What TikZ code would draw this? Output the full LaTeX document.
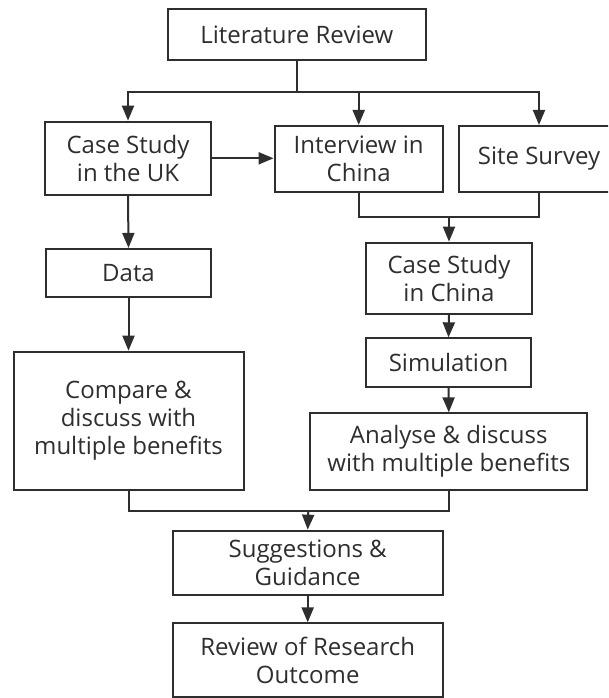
\documentclass[tikz,border=0pt]{standalone}
\usepackage{fontspec}
\setmainfont{Open Sans}
\usetikzlibrary{arrows.meta}
\definecolor{ink}{HTML}{2E2E2E}
\tikzset{
  box/.style={draw=ink, line width=2pt, text=ink, align=center, inner sep=0pt,
    font=\fontsize{24}{28}\selectfont},
  conn/.style={draw=ink, line width=2pt},
  arr/.style={conn, -{Triangle[length=15pt,width=12pt]}}
}
\begin{document}
\begin{tikzpicture}[x=1pt,y=-1pt]
\clip (0,0) rectangle (608,698);
\node[box, minimum width=257.8pt, minimum height=50.7pt] (LR) at (296.8,34.7) {Literature Review};
\node[box, minimum width=166.7pt, minimum height=73.3pt] (UK) at (128,158.3) {Case Study\\in the UK};
\node[box, minimum width=168.3pt, minimum height=65.7pt] (Int) at (358.7,158.8) {Interview in\\China};
\node[box, minimum width=160pt, minimum height=65.7pt] (Site) at (539,158.8) {Site Survey};
\node[box, minimum width=165.5pt, minimum height=47.7pt] (Data) at (128.5,272.8) {Data};
\node[box, minimum width=230pt, minimum height=138.3pt] (Cmp) at (128.5,420.8) {Compare \&\\discuss with\\multiple benefits};
\node[box, minimum width=166pt, minimum height=71.3pt] (CC) at (449,278.3) {Case Study\\in China};
\node[box, minimum width=165pt, minimum height=48.3pt] (Sim) at (448.5,362.5) {Simulation};
\node[box, minimum width=277.2pt, minimum height=76.7pt] (An) at (448.8,451.7) {Analyse \& discuss\\with multiple benefits};
\node[box, minimum width=270pt, minimum height=64.3pt] (Sug) at (307.7,562.8) {Suggestions \&\\Guidance};
\node[box, minimum width=270pt, minimum height=73.3pt] (Rev) at (307.7,660) {Review of Research\\Outcome};

\coordinate (b1) at (296.8,91.7);
\coordinate (m1) at (449,216.7);
\coordinate (m2) at (308.3,511);

\draw[conn] (LR.south) -- (b1);
\draw[arr] (b1) -| (UK.north);
\draw[arr] (b1) -| (Int.north);
\draw[arr] (b1) -| (Site.north);
\draw[arr] (UK.east) -- (UK.east -| Int.west);
\draw[arr] (UK.south) -- (Data.north);
\draw[arr] (Data.south) -- (Cmp.north);
\draw[conn] (Int.south) |- (m1) -| (Site.south);
\draw[arr] (m1) -- (CC.north);
\draw[arr] (CC.south) -- (Sim.north);
\draw[arr] (Sim.south) -- (An.north);
\draw[conn] (Cmp.south) |- (m2) -| (An.south);
\draw[arr] (m2) -- (Sug.north);
\draw[arr] (Sug.south) -- (Rev.north);
\end{tikzpicture}
\end{document}
